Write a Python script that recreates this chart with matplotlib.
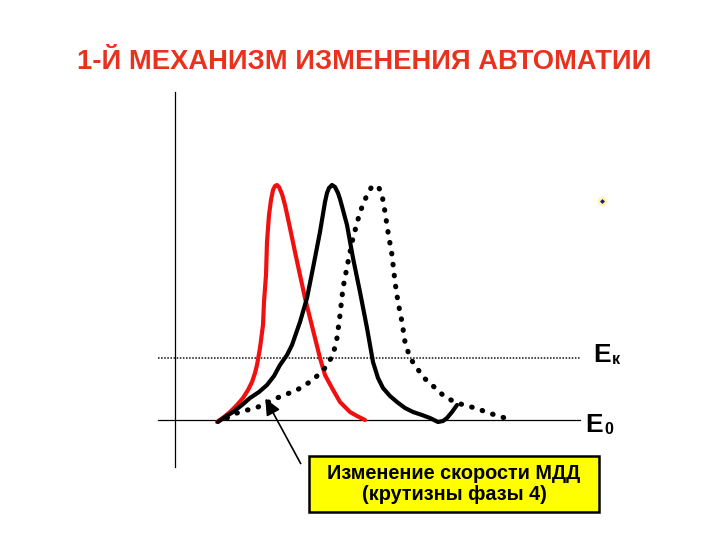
import matplotlib
matplotlib.use("Agg")
import matplotlib.pyplot as plt
from matplotlib.patches import Rectangle

# Diagram data (diagram units: x to the right, y downward as drawn)
title = "1-Й МЕХАНИЗМ ИЗМЕНЕНИЯ АВТОМАТИИ"
box_text = "Изменение скорости МДД\n(крутизны фазы 4)"
level_labels = ["E", "E"]
level_subs = ["к", "0"]

# red curve (increased phase-4 slope)
red_x = [217, 224, 230, 237, 243, 248, 252, 255, 257, 260, 263, 264, 266, 267, 269, 271, 273, 275, 277, 279, 282, 285, 290, 295, 300, 305, 310, 315, 320, 325, 332, 340, 350, 357, 365]
red_y = [422, 417, 412, 405, 398, 390, 382, 373, 365, 348, 325, 302, 275, 242, 215, 200, 190, 186, 185, 187, 194, 205, 228, 252, 275, 298, 318, 338, 358, 375, 388, 402, 412, 416, 420]

# black solid curve (normal)
blk_x = [218, 225, 233, 242, 250, 259, 267, 274, 280, 287, 292, 300, 307, 313, 320, 325, 327, 329, 332, 335, 338, 340, 343, 347, 353, 360, 367, 373, 378, 383, 390, 397, 405, 413, 422, 430, 438, 443, 447, 452, 457]
blk_y = [422, 417, 412, 405, 398, 392, 385, 376, 365, 355, 345, 322, 298, 268, 232, 202, 193, 188, 185, 187, 193, 199, 210, 225, 258, 292, 328, 362, 378, 388, 396, 402, 408, 412, 415, 418, 422, 421, 418, 412, 405]

# dotted curve (decreased phase-4 slope)
dot_x = [227, 237, 258, 277, 297, 313, 325, 333, 337, 340, 343, 348, 353, 360, 367, 371, 375, 379, 382, 385, 388, 392, 395, 398, 402, 405, 410, 417, 423, 432, 445, 457, 475, 495, 505]
dot_y = [418, 413, 407, 398, 390, 380, 368, 355, 338, 315, 288, 262, 238, 212, 195, 188, 185, 188, 195, 212, 232, 255, 282, 302, 322, 342, 358, 368, 377, 385, 397, 403, 408, 415, 418]

fig = plt.figure(figsize=(7.2, 5.4), dpi=100)
ax = fig.add_axes([0, 0, 1, 1])
ax.set_xlim(0, 720)
ax.set_ylim(540, 0)
ax.axis("off")

# axes of the diagram
ax.plot([175, 175], [92, 467], color="black", lw=0.9)
ax.plot([158, 580], [420, 420], color="black", lw=0.9)
ax.plot([158, 580], [358, 358], color="#444444", lw=1.4, linestyle=(0, (0.8, 0.8)))

ax.plot(red_x, red_y, color="#f01010", lw=3.0, solid_capstyle="round", solid_joinstyle="round")
ax.plot(blk_x, blk_y, color="black", lw=3.0, solid_capstyle="round", solid_joinstyle="round")
ax.plot(dot_x, dot_y, color="black", lw=3.7, linestyle=(0, (0.1, 2.05)), dash_capstyle="round")

# level labels
lab_font = ["Liberation Sans", "DejaVu Sans"]
ax.text(611, 355, level_labels[0], fontsize=19, fontweight="heavy", family=lab_font, va="center", ha="right")
ax.text(612, 359, level_subs[0], fontsize=11.5, fontweight="bold", family=lab_font, va="center", ha="left")
ax.text(603, 425, level_labels[1], fontsize=19, fontweight="heavy", family=lab_font, va="center", ha="right")
ax.text(604, 430, level_subs[1], fontsize=11.5, fontweight="bold", family=lab_font, va="center", ha="left")

# small marker
ax.plot([602], [201], marker="o", ms=7, color="#fff6b0", mec="none")
ax.plot([602], [201], marker="D", ms=2.5, color="#1a1a8c", mec="none")

# title
ax.text(364, 62, title, fontsize=19.7, fontweight="bold", color="#e8321e",
        family=["Liberation Sans", "DejaVu Sans"], ha="center", va="center")

# yellow box
ax.add_patch(Rectangle((309, 456), 290, 56, fc="#ffff00", ec="black", lw=1.8))
ax.text(454, 484, box_text, fontsize=14.3, fontweight="bold", family=lab_font,
        ha="center", va="center", linespacing=1.1)

# arrow
ax.annotate("", xy=(264, 396), xytext=(302, 466),
            arrowprops=dict(arrowstyle="-|>,head_length=1.0,head_width=0.45", color="black", lw=1.2))

fig.savefig("out.png", dpi=100)
